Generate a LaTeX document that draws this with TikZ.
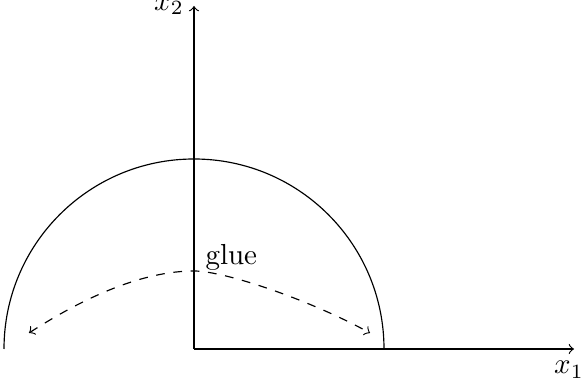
\documentclass[tikz,border=0pt]{standalone}
\begin{document}
\begin{tikzpicture}[x=0.345pt,y=-0.345pt,
  axis/.style={->},
  glueline/.style={<->,dashed}]
\useasboundingbox (0,0) rectangle (582,381);
\coordinate (O) at (194,349);
\coordinate (xend) at (574,349);
\coordinate (yend) at (194,6);
\draw[axis] (O) -- (xend);
\draw[axis] (O) -- (yend) node[left] (yl) {$x_2$};
\node[anchor=north] (xl) at (569,351) {$x_1$};
\draw (384,349) arc[start angle=0,end angle=-180,radius=190];
\coordinate (gl) at (29,333);
\coordinate (gt) at (194,271);
\coordinate (gr) at (370,333);
\draw[glueline] (gl) .. controls (80,300) and (140,271) .. (gt) .. controls (225,271) and (310,300) .. (gr);
\node[anchor=base west,inner sep=0pt] (glue) at (205,265) {glue};
\end{tikzpicture}
\end{document}
